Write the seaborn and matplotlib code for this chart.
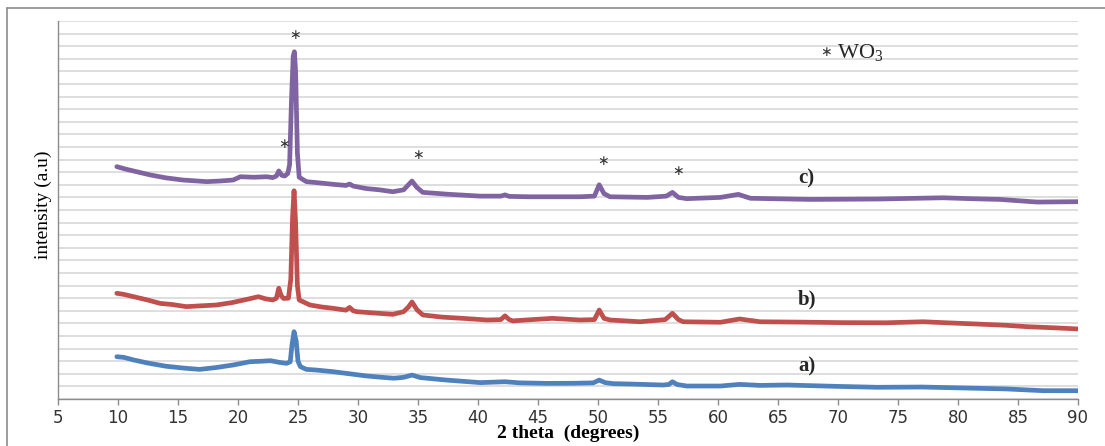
import numpy as np
import pandas as pd
import matplotlib
matplotlib.use('Agg')
import matplotlib.pyplot as plt
from matplotlib.lines import Line2D
import seaborn as sns

# XRD patterns (y in gridline units, offset traces)
theta_a = [9.9, 10.5, 11.3, 12.5, 14.0, 15.5, 16.8, 18.2, 19.6, 21.0, 22.0, 22.7, 23.5, 24.05,
           24.35, 24.5, 24.67, 24.85, 25.0, 25.2, 25.7, 26.5, 27.9, 29.3, 30.7, 32.0, 33.0, 33.8,
           34.5, 35.2, 37.4, 40.2, 42.25, 43.5, 45.75, 48.0, 49.6, 50.1, 50.6, 51.25, 53.0, 55.4,
           55.9, 56.2, 56.6, 57.4, 60.2, 61.8, 63.5, 65.75, 70.0, 73.25, 77.0, 81.6, 84.0, 87.1, 90.0]
int_a = [3.36, 3.3, 3.1, 2.85, 2.6, 2.45, 2.35, 2.5, 2.7, 2.96, 3.0, 3.04, 2.9, 2.83,
         2.95, 4.3, 5.34, 4.6, 3.0, 2.57, 2.35, 2.3, 2.17, 2.0, 1.83, 1.72, 1.65, 1.72,
         1.9, 1.7, 1.5, 1.3, 1.37, 1.28, 1.24, 1.25, 1.28, 1.5, 1.3, 1.22, 1.18, 1.11,
         1.15, 1.37, 1.15, 1.03, 1.03, 1.16, 1.08, 1.11, 1.0, 0.93, 0.95, 0.85, 0.8, 0.66, 0.66]

theta_b = [9.9, 10.5, 11.3, 12.5, 13.5, 14.5, 15.7, 17.0, 18.2, 19.5, 20.7, 21.7, 22.3, 22.9,
           23.2, 23.4, 23.6, 23.8, 24.2, 24.4, 24.55, 24.67, 24.8, 24.95, 25.1, 26.0, 27.0, 27.9,
           29.0, 29.3, 29.6, 29.9, 31.0, 32.9, 33.8, 34.2, 34.5, 34.9, 35.4, 37.0, 38.75, 40.75,
           41.9, 42.25, 42.6, 42.9, 44.5, 46.2, 48.5, 49.7, 50.1, 50.5, 51.0, 53.5, 55.6, 56.2,
           56.7, 57.1, 60.2, 61.8, 63.5, 67.0, 70.4, 74.0, 77.1, 79.0, 81.6, 84.0, 85.75, 88.0, 90.0]
int_b = [8.39, 8.3, 8.12, 7.85, 7.59, 7.5, 7.33, 7.4, 7.46, 7.65, 7.9, 8.12, 7.95, 7.86,
         8.0, 8.79, 8.2, 7.98, 8.0, 9.5, 14.5, 16.53, 14.0, 9.0, 7.86, 7.46, 7.3, 7.2,
         7.05, 7.27, 7.0, 6.93, 6.85, 6.72, 6.93, 7.3, 7.7, 7.1, 6.67, 6.5, 6.4, 6.27,
         6.3, 6.6, 6.3, 6.2, 6.3, 6.4, 6.27, 6.3, 7.06, 6.4, 6.27, 6.13, 6.3, 6.8,
         6.3, 6.13, 6.09, 6.35, 6.13, 6.1, 6.06, 6.05, 6.13, 6.05, 5.95, 5.85, 5.74, 5.65, 5.56]

theta_c = [9.9, 10.7, 11.5, 12.7, 14.0, 15.4, 17.4, 18.5, 19.6, 20.2, 21.3, 22.4, 22.9, 23.2,
           23.4, 23.65, 23.9, 24.15, 24.3, 24.45, 24.6, 24.7, 24.8, 24.95, 25.1, 25.7, 26.8, 27.9,
           29.0, 29.3, 29.6, 30.7, 31.8, 32.9, 33.8, 34.2, 34.5, 34.9, 35.4, 37.5, 40.2, 41.9,
           42.25, 42.6, 44.3, 48.5, 49.7, 50.1, 50.5, 51.0, 54.1, 55.7, 56.2, 56.7, 57.4, 60.2,
           61.7, 62.7, 67.7, 73.25, 78.75, 81.0, 83.5, 86.6, 90.0]
int_c = [18.44, 18.23, 18.05, 17.78, 17.55, 17.38, 17.25, 17.3, 17.38, 17.64, 17.6, 17.64, 17.57, 17.7,
         18.1, 17.75, 17.7, 17.9, 18.6, 23.5, 27.2, 27.56, 26.0, 19.5, 17.6, 17.25, 17.15, 17.04,
         16.95, 17.06, 16.9, 16.7, 16.6, 16.45, 16.6, 17.0, 17.3, 16.8, 16.4, 16.25, 16.1, 16.1,
         16.2, 16.08, 16.05, 16.05, 16.1, 17.0, 16.3, 16.05, 16.0, 16.1, 16.4, 16.0, 15.9, 16.0,
         16.24, 15.93, 15.84, 15.87, 15.97, 15.9, 15.84, 15.63, 15.66]

# WO3 reflections marked with asterisks (theta, height)
star_x = [24.75, 23.8, 35.0, 50.4, 56.7]
star_y = [28.9, 20.2, 19.4, 18.9, 18.1]

labels = ['a)', 'b)', 'c)']
label_y = [2.56, 7.9, 17.5]
colors = ['#4F81BD', '#C0504D', '#8064A2']

sns.set_style('white')
plt.rcParams['font.family'] = ['DejaVu Sans']

fig = plt.figure(figsize=(11.05, 4.46), dpi=100)
ax = fig.add_axes([58/1105, 47/446, 1020/1105, 378/446])

for th, it, c in zip([theta_a, theta_b, theta_c], [int_a, int_b, int_c], colors):
    sns.lineplot(x=th, y=it, color=c, linewidth=3.4, ax=ax, estimator=None,
                 solid_joinstyle='round', solid_capstyle='round')

ax.set_xlim(5, 90)
ax.set_ylim(0, 30)
ax.set_xticks(np.arange(5, 91, 5))
ax.set_yticks(np.arange(0, 31, 1))
ax.set_yticklabels([])
ax.tick_params(axis='y', length=0)
ax.tick_params(axis='x', direction='out', length=4, width=1, color='#8c8c8c',
               labelsize=12, labelcolor='#333333', pad=3, bottom=True)
ax.grid(axis='y', color='#d4d4d4', linewidth=1.1)
ax.grid(axis='x', visible=False)
for s in ['top', 'right']:
    ax.spines[s].set_visible(False)
for s in ['left', 'bottom']:
    ax.spines[s].set_color('#8c8c8c')
    ax.spines[s].set_linewidth(1)

ax.set_ylabel('intensity (a.u)', family='Liberation Serif', fontsize=14, color='black')
ax.yaxis.set_label_coords(-0.006, 0.515)
ax.set_xlabel('2 theta  (degrees)', family='Liberation Serif', fontsize=14,
              fontweight='bold', color='black')
ax.xaxis.label.set_va('center')
ax.xaxis.set_label_coords(0.5, -0.092)

for sx, sy in zip(star_x, star_y):
    ax.text(sx, sy, '\u2217', ha='center', va='center', fontsize=10, color='#333333')

for lab, ly in zip(labels, label_y):
    ax.text(67.4, ly, lab, ha='center', va='center', family='Liberation Serif',
            fontsize=15, fontweight='bold')

ax.text(69.0, 27.5, '\u2217', ha='center', va='center', fontsize=10, color='#333333')
ax.text(69.9, 27.5, r'$\mathregular{WO_3}$', ha='left', va='center',
        family='Liberation Serif', fontsize=16)

# outer frame of the original figure
fig.add_artist(Line2D([7/1105, 7/1105], [0, 1 - 8/446], transform=fig.transFigure,
                      color='#8c8c8c', linewidth=1.2))
fig.add_artist(Line2D([7/1105, 1], [1 - 8/446, 1 - 8/446], transform=fig.transFigure,
                      color='#8c8c8c', linewidth=1.2))

fig.savefig('out.png', dpi=100)
